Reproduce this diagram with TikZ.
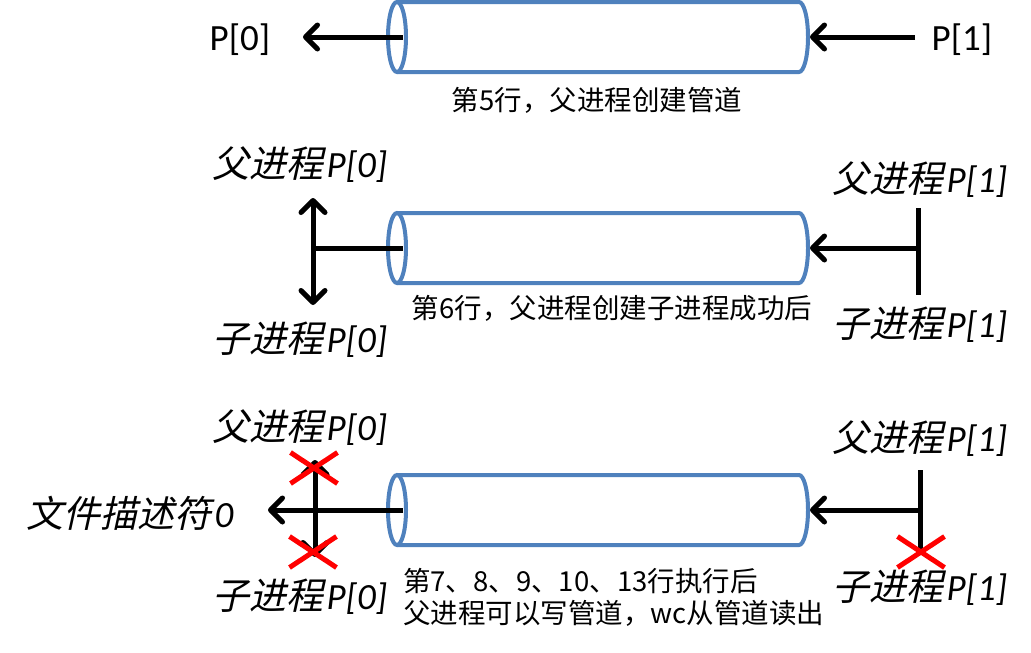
\documentclass[tikz,border=0pt]{standalone}
\usepackage{fontspec}
\setmainfont{Carlito}
\newfontfamily\cjk{Noto Sans CJK SC}
\newfontfamily\cjkit[FakeSlant=0.22]{Noto Sans CJK SC}
\usetikzlibrary{arrows.meta,shapes.misc}
\definecolor{pipeblue}{HTML}{4F81BD}
\newcommand\proc[2]{{\cjkit #1}\kern3pt\textit{#2}}
\begin{document}
\begin{tikzpicture}[x=1pt,y=-1pt,
    >={Straight Barb[length=12pt,width=24pt,round]},
    wire/.style={line width=5pt},
    pipe/.style={draw=pipeblue,line width=4pt},
    lbl/.style={inner sep=0pt,font=\fontsize{37}{40}\selectfont},
    note/.style={inner sep=0pt,font=\cjk\fontsize{27.5}{32}\selectfont,align=left},
    xmark/.style={cross out,draw=red,line width=5pt,minimum width=42pt,minimum height=26pt,inner sep=0pt}]
    \useasboundingbox (0,0) rectangle (1031,653);

    % the pipe, drawn three times
    \foreach \y/\n in {37/1,248/2,510/3}{
        \draw[pipe] (397,\y) ellipse (9 and 35);
        \draw[pipe] (397,\y-35) -- (799,\y-35) arc (-90:90:9 and 35) -- (397,\y+35);
        \coordinate (in\n) at (403,\y);
        \coordinate (out\n) at (810,\y);
    }

    % line 5
    \node[lbl] (p0) at (240,40) {P[0]};
    \node[lbl] (p1) at (962,40) {P[1]};
    \coordinate (t0) at (303,37);
    \coordinate (s1) at (915,37);
    \draw[wire,->] (in1) -- (t0);
    \draw[wire,->] (s1) -- (out1);
    \node[note] (c1) at (597,100) {第5行，父进程创建管道};

    % line 6
    \node[lbl] (f0b) at (300,165) {\proc{父进程}{P[0]}};
    \node[lbl] (z0b) at (300,340) {\proc{子进程}{P[0]}};
    \node[lbl] (f1b) at (920,180) {\proc{父进程}{P[1]}};
    \node[lbl] (z1b) at (920,325) {\proc{子进程}{P[1]}};
    \coordinate (j0b) at (313,248);
    \coordinate (u0b) at (313,198);
    \coordinate (d0b) at (313,305);
    \coordinate (j1b) at (918,248);
    \coordinate (u1b) at (918,208);
    \coordinate (d1b) at (918,295);
    \draw[wire] (in2) -- (j0b);
    \draw[wire,<->] (u0b) -- (d0b);
    \draw[wire] (u1b) -- (d1b);
    \draw[wire,->] (j1b) -- (out2);
    \node[note] (c2) at (612,308) {第6行，父进程创建子进程成功后};

    % lines 7-13
    \node[lbl] (f0c) at (300,428) {\proc{父进程}{P[0]}};
    \node[lbl] (z0c) at (300,597) {\proc{子进程}{P[0]}};
    \node[lbl] (fd0) at (130,513) {\proc{文件描述符}{0}};
    \node[lbl] (f1c) at (920,439) {\proc{父进程}{P[1]}};
    \node[lbl] (z1c) at (920,588) {\proc{子进程}{P[1]}};
    \coordinate (t0c) at (268,510);
    \coordinate (u0c) at (315,460);
    \coordinate (d0c) at (315,557);
    \coordinate (j1c) at (920,510);
    \coordinate (u1c) at (920,470);
    \coordinate (d1c) at (920,552);
    \draw[wire,->] (in3) -- (t0c);
    \draw[wire,<->] (u0c) -- (d0c);
    \draw[wire] (u1c) -- (d1c);
    \draw[wire,->] (j1c) -- (out3);
    \node[xmark] (x1) at (314,468) {};
    \node[xmark] (x2) at (313,552) {};
    \node[xmark] (x3) at (921,552) {};
    \node[note,anchor=west] (c3) at (403,597) {第7、8、9、10、13行执行后\\父进程可以写管道，wc从管道读出};
\end{tikzpicture}
\end{document}
